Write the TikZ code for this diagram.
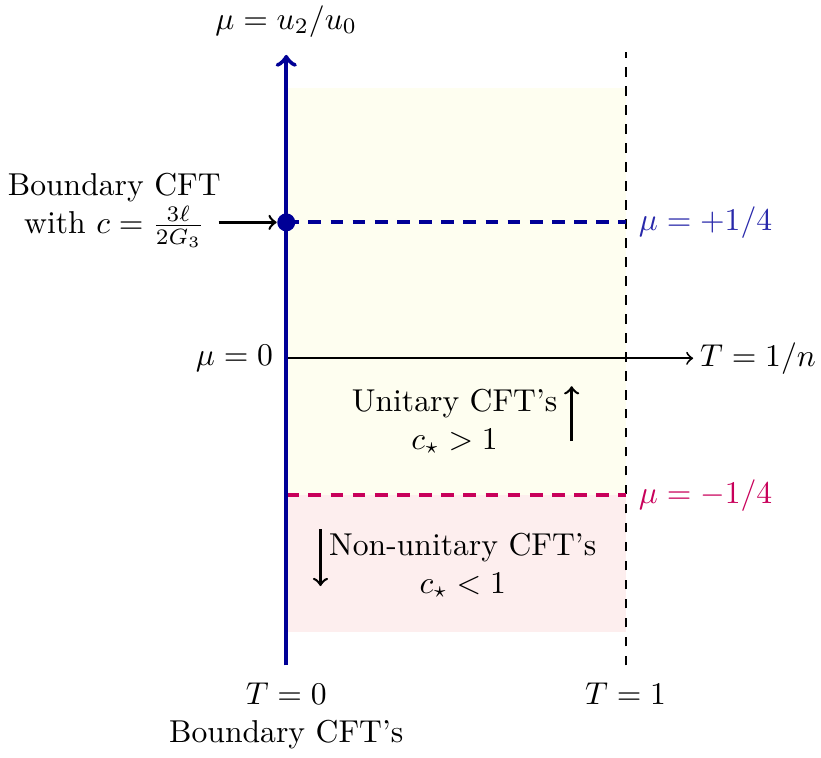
\documentclass[tikz,border=0pt]{standalone}
\usepackage{amsmath}
\usetikzlibrary{arrows,positioning,calc}
\definecolor{axisblue}{RGB}{0,0,150}
\definecolor{plusblue}{RGB}{40,40,170}
\definecolor{minusred}{RGB}{200,0,90}
\definecolor{unitfill}{RGB}{254,254,240}
\definecolor{nonunitfill}{RGB}{253,238,238}

\begin{document}
\begin{tikzpicture}[
    lbl/.style={align=center, inner sep=2pt},
    lvl/.style={very thick, dash pattern=on 4pt off 3pt}
]
\useasboundingbox (-3.18,3.98) rectangle (5.94,-4.44);

% Regions
\fill[unitfill] (0,-1.52) rectangle (3.77,3.0);
\fill[nonunitfill] (0,-3.04) rectangle (3.77,-1.52);

% Axes
\coordinate (origin) at (0,0);
\coordinate (mubot) at (0,-3.41);
\coordinate (mutop) at (0,3.37);
\coordinate (Tend) at (4.52,0);
\coordinate (onebot) at (3.77,-3.41);
\coordinate (onetop) at (3.77,3.4);
\draw[dashed, semithick] (onebot) -- (onetop);
\draw[->, semithick] (origin) -- (Tend);
\node (Tlbl) [lbl, right=0pt of Tend] {$T=1/n$};
\node (mu0) [lbl, left=2pt of origin] {$\mu=0$};

% Levels
\coordinate (plusL) at (0,1.51);
\coordinate (plusR) at (3.77,1.51);
\coordinate (minusL) at (0,-1.52);
\coordinate (minusR) at (3.77,-1.52);
\draw[lvl, axisblue] (plusL) -- (plusR);
\draw[lvl, minusred] (minusL) -- (minusR);
\node (plus) [lbl, right=2pt of plusR, text=plusblue] {$\mu=+1/4$};
\node (minus) [lbl, right=2pt of minusR, text=minusred] {$\mu=-1/4$};

% Vertical axis
\draw[->, axisblue, line width=1.4pt] (mubot) -- (mutop);
\node (mulbl) [lbl, above=0.12cm of mutop] {$\mu=u_2/u_0$};
\node (bdot) [circle, fill=axisblue, inner sep=0pt, minimum size=0.2cm] at (plusL) {};

% Boundary CFT
\node (bcft) [lbl] at (-1.91,1.64) {Boundary CFT \\ with $c=\frac{3\ell}{2G_3}$};
\draw[->, thick] ([xshift=-0.1cm, yshift=-0.13cm]bcft.east) -- (bdot.west);

% Unitary / non-unitary
\node (unit) [lbl] at (1.87,-0.7) {Unitary CFT's \\ $c_\star>1$};
\coordinate (ua) at (3.17,-0.92);
\coordinate (ub) at (3.17,-0.31);
\draw[->, thick] (ua) -- (ub);
\node (nonunit) [lbl] at (1.96,-2.3) {Non-unitary CFT's \\ $c_\star<1$};
\coordinate (na) at (0.38,-1.9);
\coordinate (nb) at (0.38,-2.53);
\draw[->, thick] (na) -- (nb);

% Bottom labels
\node (T0) [lbl, below=0.12cm of mubot] {$T=0$ \\ Boundary CFT's};
\node (T1) [lbl, below=0.12cm of onebot] {$T=1$};

\end{tikzpicture}
\end{document}
